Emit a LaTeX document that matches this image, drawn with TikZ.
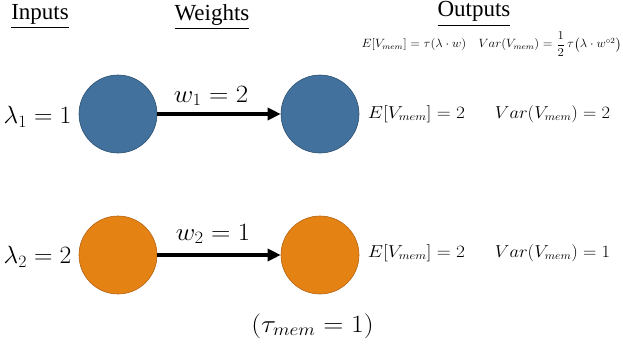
\documentclass[tikz,border=0pt]{standalone}
\usepackage[no-math]{fontspec}
\setmainfont{Liberation Serif}
\usepackage{amsmath}
\usetikzlibrary{arrows.meta}
\definecolor{bluefill}{RGB}{65,113,156}
\definecolor{blueline}{RGB}{47,82,114}
\definecolor{orfill}{RGB}{229,130,20}
\definecolor{orline}{RGB}{180,100,20}
\newcommand{\wmath}[2][1.15]{\scalebox{#1}[1]{$#2$}}
\begin{document}
\begin{tikzpicture}[x=1pt,y=-1pt,
  neuron/.style={circle, minimum size=78pt, inner sep=0pt, line width=0.6pt},
  bneuron/.style={neuron, fill=bluefill, draw=blueline},
  oneuron/.style={neuron, fill=orfill, draw=orline},
  heading/.style={font=\fontsize{23}{26}\selectfont, inner sep=0pt},
  biglab/.style={font=\fontsize{23}{25}\selectfont, inner sep=0pt},
  outlab/.style={font=\fontsize{16}{18}\selectfont, inner sep=0pt},
  toplab/.style={font=\fontsize{11.5}{13}\selectfont, inner sep=0pt},
  conn/.style={line width=3.6pt, -{Triangle[length=13pt,width=12pt]}}
]
\useasboundingbox (0,0) rectangle (623,343);
\node[heading] (hin) at (40,17) {\underline{Inputs}};
\node[heading] (hw) at (212,17) {\underline{Weights}};
\node[heading] (hout) at (474,14) {\underline{Outputs}};
\node[toplab] (form) at (491.5,44) {\wmath[1.07]{E[V_{mem}] = \tau(\lambda\cdot w)\quad Var(V_{mem}) = \dfrac{1}{2}\,\tau\big(\lambda\cdot w^{\circ 2}\big)}};

\node[bneuron] (b1) at (118,114) {};
\node[bneuron] (b2) at (320,114) {};
\node[oneuron] (o1) at (118,255) {};
\node[oneuron] (o2) at (320,255) {};

\node[biglab] (l1) at (37.5,117) {\wmath[1.03]{\lambda_1 = 1}};
\node[biglab] (l2) at (37.5,257) {\wmath[1.03]{\lambda_2 = 2}};

\draw[conn] (b1) -- (b2);
\draw[conn] (o1) -- (o2);
\node[biglab] (w1) at (211,96) {\wmath[1.08]{w_1 = 2}};
\node[biglab] (w2) at (213,234) {\wmath[1.08]{w_2 = 1}};

\node[outlab] (e1) at (416.5,114) {\wmath[1.12]{E[V_{mem}] = 2}};
\node[outlab] (v1) at (552.5,114) {\wmath[1.07]{Var(V_{mem}) = 2}};
\node[outlab] (e2) at (416.5,253) {\wmath[1.12]{E[V_{mem}] = 2}};
\node[outlab] (v2) at (552.5,253) {\wmath[1.07]{Var(V_{mem}) = 1}};

\node[biglab] (tau) at (312.5,326) {\wmath[1.12]{(\tau_{mem} = 1)}};
\end{tikzpicture}
\end{document}
